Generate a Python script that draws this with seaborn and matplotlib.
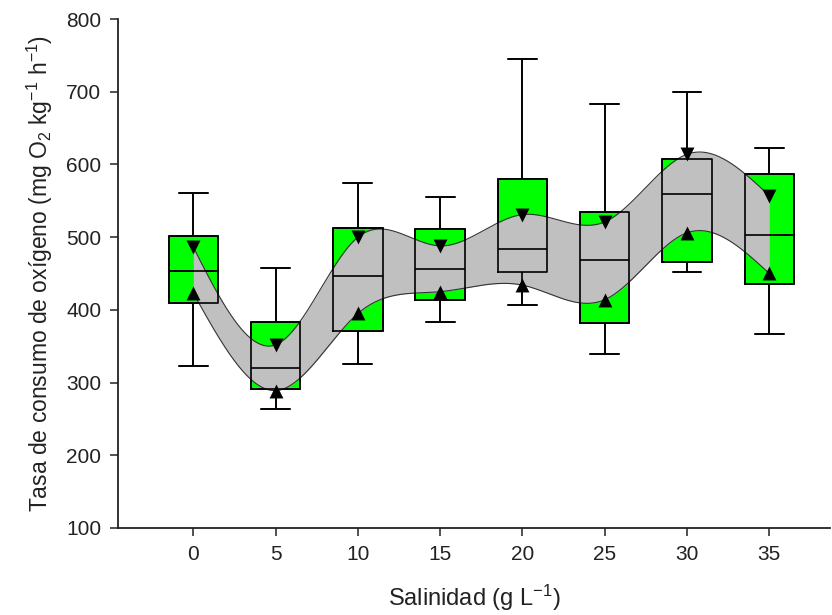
import numpy as np
import pandas as pd
import matplotlib
matplotlib.use("Agg")
import matplotlib.pyplot as plt
import seaborn as sns

# ---- data ----
salinity = [0, 5, 10, 15, 20, 25, 30, 35]
whisker_low = [323, 264, 325, 383, 406, 339, 452, 367]
q1 = [410, 291, 371, 414, 452, 382, 466, 436]
median = [454, 320, 446, 456, 484, 468, 559, 503]
q3 = [502, 383, 513, 511, 580, 535, 608, 587]
whisker_high = [561, 458, 575, 555, 745, 683, 700, 623]
upper_band = [486, 352, 500, 488, 531, 521, 614, 557]   # down triangles
lower_band = [423, 289, 395, 425, 434, 414, 506, 450]   # up triangles
y_ticks = [100, 200, 300, 400, 500, 600, 700, 800]

sns.set_style("ticks")
plt.rcParams["font.family"] = ["Liberation Sans", "DejaVu Sans"]
plt.rcParams["mathtext.fontset"] = "custom"
plt.rcParams["mathtext.rm"] = "Liberation Sans"
plt.rcParams["mathtext.it"] = "Liberation Sans:italic"
plt.rcParams["mathtext.default"] = "regular"

rows = []
for i, s in enumerate(salinity):
    for v in (whisker_low[i], q1[i], median[i], q3[i], whisker_high[i]):
        rows.append({"sal": s, "val": v})
df = pd.DataFrame(rows)


def natural_spline(x, y, xs):
    x = np.asarray(x, float); y = np.asarray(y, float)
    n = len(x); h = np.diff(x)
    A = np.zeros((n, n)); b = np.zeros(n)
    A[0, 0] = 1; A[-1, -1] = 1
    for i in range(1, n - 1):
        A[i, i - 1] = h[i - 1]; A[i, i] = 2 * (h[i - 1] + h[i]); A[i, i + 1] = h[i]
        b[i] = 6 * ((y[i + 1] - y[i]) / h[i] - (y[i] - y[i - 1]) / h[i - 1])
    M = np.linalg.solve(A, b)
    idx = np.clip(np.searchsorted(x, xs) - 1, 0, n - 2)
    x0, x1 = x[idx], x[idx + 1]; hh = x1 - x0
    t0 = x1 - xs; t1 = xs - x0
    return (M[idx] * t0**3 / (6 * hh) + M[idx + 1] * t1**3 / (6 * hh)
            + (y[idx] / hh - M[idx] * hh / 6) * t0 + (y[idx + 1] / hh - M[idx + 1] * hh / 6) * t1)


fig = plt.figure(figsize=(8.32, 6.15), dpi=100)
ax = fig.add_axes([0.1418, 0.1415, 0.856, 0.8276])

# green box fills (under the band)
sns.boxplot(data=df, x="sal", y="val", native_scale=True, whis=(0, 100), width=0.6,
            color="#00ff00", saturation=1, linecolor="black", linewidth=1.2,
            capwidths=1.75, ax=ax)

# grey band between spline curves
xs = np.linspace(salinity[0], salinity[-1], 400)
hi = natural_spline(salinity, upper_band, xs)
lo = natural_spline(salinity, lower_band, xs)
ax.fill_between(xs, lo, hi, color="#c0c0c0", linewidth=0, zorder=3)
sns.lineplot(x=xs, y=hi, color="#333333", linewidth=0.8, ax=ax, zorder=3.5)
sns.lineplot(x=xs, y=lo, color="#333333", linewidth=0.8, ax=ax, zorder=3.5)

# box outlines, medians, whiskers on top of band
n_lines = len(ax.lines)
sns.boxplot(data=df, x="sal", y="val", native_scale=True, whis=(0, 100), width=0.6,
            color="black", fill=False, linewidth=1.2, capwidths=1.75, ax=ax)
for ln in ax.lines[n_lines:]:
    ln.set_zorder(4)
    ln.set_color("black")

sns.scatterplot(x=salinity, y=upper_band, marker="v", color="black", s=100,
                linewidth=0, ax=ax, zorder=5)
sns.scatterplot(x=salinity, y=lower_band, marker="^", color="black", s=100,
                linewidth=0, ax=ax, zorder=5)

ax.set_ylim(100, 800)
ax.set_xlim(-4.58, 38.7)
ax.set_yticks(y_ticks)
ax.set_xticks(salinity)
ax.set_xticklabels([str(s) for s in salinity])
for sp in ("top", "right"):
    ax.spines[sp].set_visible(False)
for sp in ("left", "bottom"):
    ax.spines[sp].set_linewidth(1.3)
    ax.spines[sp].set_color("#222222")
ax.tick_params(axis="both", length=6, width=1.1, color="#222222",
               labelsize=15, labelcolor="#222222", pad=6)
ax.tick_params(axis="x", pad=6)
ax.set_xlabel(r"Salinidad (g L$^{-1}$)", fontsize=17, color="#222222", labelpad=14)
ax.set_ylabel(r"Tasa de consumo de oxígeno (mg O$_2$ kg$^{-1}$ h$^{-1}$)",
              fontsize=16.5, color="#222222", labelpad=8)

fig.savefig("out.png", dpi=100)
